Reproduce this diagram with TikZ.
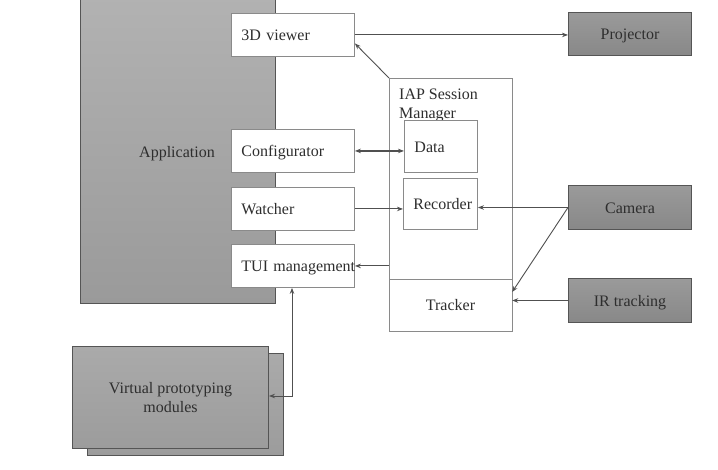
\documentclass[tikz,border=0pt]{standalone}
\usepackage{fontspec}
\setmainfont{Liberation Serif}
\usetikzlibrary{arrows.meta}
\definecolor{txt}{HTML}{2E2E2E}
\definecolor{edgeD}{HTML}{555555}
\definecolor{edgeL}{HTML}{8A8A8A}
\definecolor{apptop}{HTML}{B2B2B2}
\definecolor{appbot}{HTML}{9A9A9A}
\definecolor{devtop}{HTML}{9A9A9A}
\definecolor{devbot}{HTML}{888888}
\definecolor{vptop}{HTML}{AAAAAA}
\definecolor{vpbot}{HTML}{9C9C9C}
\definecolor{linec}{HTML}{505050}
\begin{document}
\begin{tikzpicture}[x=1pt,y=-1pt,
  font=\fontsize{16}{19}\selectfont, text=txt,
  graybox/.style={draw=edgeD, line width=1pt, inner sep=0pt, anchor=north west, align=center},
  devbox/.style={graybox, top color=devtop, bottom color=devbot, minimum width=123pt, text height=14pt, text depth=2pt},
  whitebox/.style={draw=edgeL, fill=white, line width=0.9pt, inner xsep=10pt, inner ysep=0pt, anchor=north west, align=left},
  lowtext/.style={text height=14pt, text depth=2pt},
  conn/.style={draw=linec, line width=0.9pt},
  thickconn/.style={draw=linec, line width=1.5pt},
  tip/.style={-{Stealth[length=6pt,width=4.5pt]}},
  tips/.style={{Stealth[length=6pt,width=4.5pt]}-{Stealth[length=6pt,width=4.5pt]}}
]
\useasboundingbox (0,0) rectangle (718,470);
\fill[white] (0,0) rectangle (718,470);

% Application
\node[graybox, top color=apptop, bottom color=appbot, minimum width=195pt, minimum height=308pt] (app) at (80,-5) {};
\node[inner sep=0pt] (applabel) at (177,154) {Application};

% application components
\node[whitebox, lowtext, text width=103pt, minimum height=43pt] (viewer) at (231,13) {3D viewer};
\node[whitebox, lowtext, text width=103pt, minimum height=43pt] (config) at (231,129) {Configurator};
\node[whitebox, lowtext, text width=103pt, minimum height=43pt] (watcher) at (231,187) {Watcher};
\node[whitebox, lowtext, text width=103pt, minimum height=43pt] (tui) at (231,244) {\mbox{TUI management}};

% IAP Session Manager
\node[whitebox, minimum width=123pt, minimum height=253pt, inner xsep=0pt] (iap) at (389,78) {};
\node[anchor=north west, align=left, inner sep=0pt] (iaplabel) at (399,89) {IAP Session\\Manager};
\node[whitebox, lowtext, text width=53pt, minimum height=52pt] (data) at (404,120) {Data};
\node[whitebox, lowtext, text width=54pt, minimum height=51pt] (recorder) at (403,178) {\mbox{Recorder}};
\coordinate (divL) at (389,279);
\coordinate (divR) at (512,279);
\draw[draw=edgeL, line width=0.9pt] (divL) -- (divR);
\node[lowtext, inner sep=0pt, minimum width=123pt, minimum height=52pt] (tracker) at (450.5,305) {Tracker};

% devices
\node[devbox, minimum height=43pt] (projector) at (568,12) {Projector};
\node[devbox, minimum height=44pt] (camera) at (568,185) {Camera};
\node[devbox, minimum height=44pt] (ir) at (568,278) {IR tracking};

% Virtual prototyping modules
\node[graybox, top color=vptop, bottom color=vpbot, minimum width=196pt, minimum height=102pt] (vpback) at (87,353) {};
\node[graybox, top color=vptop, bottom color=vpbot, minimum width=196pt, minimum height=102pt] (vpfront) at (72,346) {Virtual prototyping\\modules};

% connectors
\draw[conn, tip] (viewer.east) -- (viewer.east -| projector.west);
\draw[conn, tip] (iap.north west) -- ([yshift=-8.5pt]viewer.east);
\draw[thickconn, tips] (config.east) -- (config.east -| data.west);
\draw[conn, tip] (watcher.east) -- (watcher.east -| recorder.west);
\draw[thickconn, tip] (camera.west) -- (camera.west -| recorder.east);
\draw[conn, tip] (camera.west) -- ([yshift=13pt]tracker.east);
\draw[conn, tip] (ir.west) -- (ir.west -| tracker.east);
\draw[conn, tip] (tui.east -| iap.west) -- (tui.east);
\coordinate (bend) at (292,396);
\draw[conn, tips] (tui.south -| bend) -- (bend) -- (vpfront.east |- bend);
\end{tikzpicture}
\end{document}
